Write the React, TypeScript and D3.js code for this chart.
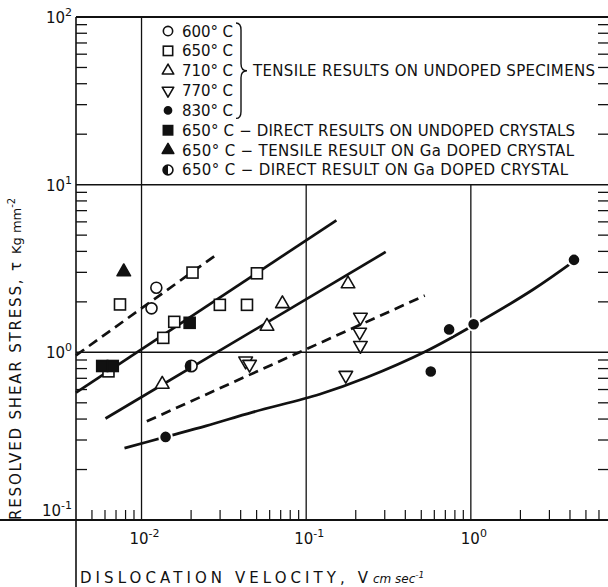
import React, { useRef, useEffect } from "react";
import * as d3 from "d3";

type Pt = [number, number]; // [velocity cm/s, stress kg/mm^2]

const W = 608;
const H = 587;

// tensile results on undoped specimens
const t600: Pt[] = [[0.0123, 2.43], [0.0115, 1.83]];
const t650: Pt[] = [
  [0.0074, 1.93], [0.0063, 0.77], [0.01355, 1.22], [0.0158, 1.52],
  [0.0204, 2.99], [0.0299, 1.92], [0.0437, 1.92], [0.0502, 2.96],
];
const t710: Pt[] = [[0.01336, 0.645], [0.0578, 1.43], [0.0717, 1.95], [0.1795, 2.56]];
const t770: Pt[] = [
  [0.0429, 0.888], [0.0453, 0.849], [0.174, 0.73],
  [0.2114, 1.32], [0.2135, 1.62], [0.2135, 1.1],
];
const t830: Pt[] = [[0.014, 0.313], [0.571, 0.768], [0.738, 1.37], [1.04, 1.47], [4.23, 3.56]];
// 650 C, other specimens
const direct650: Pt[] = [[0.00577, 0.829], [0.00669, 0.829], [0.0196, 1.5]];
const tensileGa: Pt[] = [[0.0078, 3.02]];
const directGa: Pt[] = [[0.02005, 0.829]];

// drawn-in curves
const fit600: Pt[] = [[0.004, 0.96], [0.0291, 3.88]];
const fit650: Pt[] = [[0.004, 0.575], [0.1526, 6.13]];
const fit710: Pt[] = [[0.00604, 0.403], [0.304, 3.97]];
const fit770: Pt[] = [[0.01077, 0.388], [0.525, 2.18]];
const fit830: Pt[] = [
  [0.00788, 0.2685], [0.014, 0.313], [0.0247, 0.364], [0.0475, 0.44],
  [0.1208, 0.5623], [0.2323, 0.707], [0.538, 1.018], [1.043, 1.454],
  [2.39, 2.37], [4.23, 3.5],
];

const xMajor = [0.01, 0.1, 1];
const yMajor = [0.1, 1, 10, 100];

const tempLabels = ["600° C", "650° C", "710° C", "770° C", "830° C"];
const otherLabels = [
  "650° C − DIRECT RESULTS ON UNDOPED CRYSTALS",
  "650° C − TENSILE RESULT ON Ga DOPED CRYSTAL",
  "650° C − DIRECT RESULT ON Ga DOPED CRYSTAL",
];
const otherLengths = [393, 392, 386];
const groupLabel = "TENSILE RESULTS ON UNDOPED SPECIMENS";

type Kind = "circle" | "square" | "tri" | "triDown" | "dot" | "fsquare" | "ftri" | "half";

const series: { data: Pt[]; kind: Kind }[] = [
  { data: t600, kind: "circle" },
  { data: t650, kind: "square" },
  { data: t710, kind: "tri" },
  { data: t770, kind: "triDown" },
  { data: direct650, kind: "fsquare" },
  { data: tensileGa, kind: "ftri" },
  { data: directGa, kind: "half" },
  { data: t830, kind: "dot" },
];
const legendKinds: Kind[] = ["circle", "square", "tri", "triDown", "dot", "fsquare", "ftri", "half"];

const ink = "#111";

function drawMarker(parent: any, kind: Kind, cx: number, cy: number, s: number) {
  const g = parent.append("g").attr("transform", `translate(${cx},${cy})`);
  if (kind === "circle") {
    g.append("circle").attr("r", 5.5 * s).attr("fill", "#fff").attr("stroke", ink).attr("stroke-width", 1.6);
  } else if (kind === "square" || kind === "fsquare") {
    const a = 11 * s;
    g.append("rect").attr("x", -a / 2).attr("y", -a / 2).attr("width", a).attr("height", a)
      .attr("fill", kind === "fsquare" ? ink : "#fff").attr("stroke", ink).attr("stroke-width", 1.6);
  } else if (kind === "tri" || kind === "triDown" || kind === "ftri") {
    const sym = d3.symbol().type(d3.symbolTriangle).size(80 * s * s);
    g.append("path").attr("d", sym() as string)
      .attr("transform", kind === "triDown" ? "rotate(180)" : null)
      .attr("fill", kind === "ftri" ? ink : "#fff").attr("stroke", ink).attr("stroke-width", 1.6)
      .attr("stroke-linejoin", "round");
  } else if (kind === "dot") {
    g.append("circle").attr("r", 6.3 * s).attr("fill", ink).attr("stroke", "#fff").attr("stroke-width", 2);
  } else if (kind === "half") {
    const r = 5.8 * s;
    g.append("circle").attr("r", r).attr("fill", "#fff").attr("stroke", ink).attr("stroke-width", 1.6);
    g.append("path").attr("d", `M0,${-r} A${r},${r} 0 0 0 0,${r} Z`).attr("fill", ink);
  }
}

const App: React.FC = () => {
  const svgRef = useRef<SVGSVGElement | null>(null);

  useEffect(() => {
    const svg = d3.select(svgRef.current);
    svg.selectAll("*").remove();

    const x = d3.scaleLog().domain([0.004, 7]).range([76, 610]);
    const y = d3.scaleLog().domain([0.1, 100]).range([520, 17]);
    const left = 76;
    const right = 610;
    const top = y(100);
    const bottom = y(0.1);
    const font = "'DejaVu Sans', Verdana, sans-serif";
    const isMajor = (v: number) => Math.abs(Math.log10(v) - Math.round(Math.log10(v))) < 1e-6;

    svg.append("rect").attr("width", W).attr("height", H).attr("fill", "#fff");

    const frame = svg.append("g").attr("stroke", ink).attr("fill", "none");
    frame.append("line").attr("x1", left).attr("x2", right).attr("y1", top).attr("y2", top).attr("stroke-width", 2);
    frame.append("line").attr("x1", 0).attr("x2", right).attr("y1", bottom).attr("y2", bottom).attr("stroke-width", 2);
    frame.append("line").attr("x1", left).attr("x2", left).attr("y1", top).attr("y2", H).attr("stroke-width", 1.6);

    // grid: the 10^-2 line runs the full height, the others stop under the legend
    xMajor.forEach((v) => {
      frame.append("line").attr("x1", x(v)).attr("x2", x(v))
        .attr("y1", v === 0.01 ? top : y(10)).attr("y2", bottom).attr("stroke-width", 1.3);
    });
    [1, 10].forEach((v) => {
      frame.append("line").attr("x1", left).attr("x2", right).attr("y1", y(v)).attr("y2", y(v)).attr("stroke-width", 1.5);
    });

    // minor ticks
    x.ticks().filter((v) => !isMajor(v) && x(v) > left + 2).forEach((v) => {
      frame.append("line").attr("x1", x(v)).attr("x2", x(v)).attr("y1", bottom).attr("y2", bottom - 10).attr("stroke-width", 1.2);
    });
    y.ticks().filter((v) => !isMajor(v)).forEach((v) => {
      frame.append("line").attr("x1", left).attr("x2", left + 11).attr("y1", y(v)).attr("y2", y(v)).attr("stroke-width", 1.3);
      frame.append("line").attr("x1", 598).attr("x2", right).attr("y1", y(v)).attr("y2", y(v)).attr("stroke-width", 1.3);
    });

    // tick labels
    yMajor.forEach((v) => {
      const t = svg.append("text").attr("x", 72).attr("y", v === 0.1 ? y(v) - 4 : y(v) + 6)
        .attr("text-anchor", "end").attr("font-family", font).attr("font-size", 15).attr("fill", ink);
      t.append("tspan").text("10");
      t.append("tspan").attr("dy", -7).attr("font-size", 11).text(String(Math.round(Math.log10(v))));
    });
    xMajor.forEach((v) => {
      const t = svg.append("text").attr("x", x(v) + 3).attr("y", 544)
        .attr("text-anchor", "middle").attr("font-family", font).attr("font-size", 15).attr("fill", ink);
      t.append("tspan").text("10");
      t.append("tspan").attr("dy", -7).attr("font-size", 11).text(String(Math.round(Math.log10(v))));
    });

    // axis titles
    svg.append("text").attr("x", 80).attr("y", 583).attr("font-family", font).attr("font-size", 15)
      .attr("fill", ink).attr("textLength", 288).attr("lengthAdjust", "spacing").text("DISLOCATION VELOCITY, V");
    const xu = svg.append("text").attr("x", 373).attr("y", 583).attr("font-family", font).attr("font-size", 12)
      .attr("font-style", "italic").attr("fill", ink);
    xu.append("tspan").text("cm sec");
    xu.append("tspan").attr("dy", -5).attr("font-size", 9).text("-1");

    const yt = svg.append("g").attr("transform", "translate(21,520) rotate(-90)");
    yt.append("text").attr("font-family", font).attr("font-size", 15).attr("fill", ink)
      .attr("textLength", 258).attr("lengthAdjust", "spacing").text("RESOLVED SHEAR STRESS, τ");
    const yu = yt.append("text").attr("x", 266).attr("font-family", font).attr("font-size", 13).attr("fill", ink);
    yu.append("tspan").text("Kg mm");
    yu.append("tspan").attr("dy", -6).attr("font-size", 10).text("-2");

    // curves
    const line = d3.line<Pt>().x((d) => x(d[0])).y((d) => y(d[1]));
    const curves: { data: Pt[]; dashed: boolean }[] = [
      { data: fit600, dashed: true },
      { data: fit650, dashed: false },
      { data: fit710, dashed: false },
      { data: fit770, dashed: true },
    ];
    curves.forEach((c) => {
      svg.append("path").attr("d", line(c.data) as string).attr("fill", "none").attr("stroke", ink)
        .attr("stroke-width", 2.7).attr("stroke-dasharray", c.dashed ? "10 6" : null);
    });
    svg.append("path").attr("d", line.curve(d3.curveCatmullRom.alpha(0.5))(fit830) as string).attr("fill", "none")
      .attr("stroke", ink).attr("stroke-width", 2.7);

    // points
    const pts = svg.append("g");
    series.forEach((s) => {
      s.data.forEach((d) => drawMarker(pts, s.kind, x(d[0]), y(d[1]), 1));
    });

    // legend
    const ly = (i: number) => 31 + i * 19.85;
    const lg = svg.append("g").attr("font-family", font).attr("font-size", 15).attr("fill", ink);
    legendKinds.forEach((k, i) => drawMarker(lg, k, 168, ly(i), 0.85));
    tempLabels.forEach((t, i) => {
      lg.append("text").attr("x", 182).attr("y", ly(i) + 5.5).attr("textLength", 51)
        .attr("lengthAdjust", "spacing").text(t);
    });
    otherLabels.forEach((t, i) => {
      lg.append("text").attr("x", 182).attr("y", ly(i + 5) + 5.5).attr("textLength", otherLengths[i])
        .attr("lengthAdjust", "spacing").text(t);
    });
    lg.append("path")
      .attr("d", `M236,${ly(0) - 8} Q241,${ly(0) - 8} 241,${ly(0) - 1} L241,${ly(2) - 7} Q241,${ly(2)} 247,${ly(2)} Q241,${ly(2)} 241,${ly(2) + 7} L241,${ly(4) + 1} Q241,${ly(4) + 8} 236,${ly(4) + 8}`)
      .attr("fill", "none").attr("stroke", ink).attr("stroke-width", 1.4);
    lg.append("text").attr("x", 253).attr("y", ly(2) + 5.5).attr("textLength", 342)
      .attr("lengthAdjust", "spacing").text(groupLabel);
  }, []);

  return (
    <svg
      ref={svgRef}
      width={W}
      height={H}
      style={{ position: "absolute", left: 0, top: 0, display: "block" }}
    />
  );
};

export default App;
